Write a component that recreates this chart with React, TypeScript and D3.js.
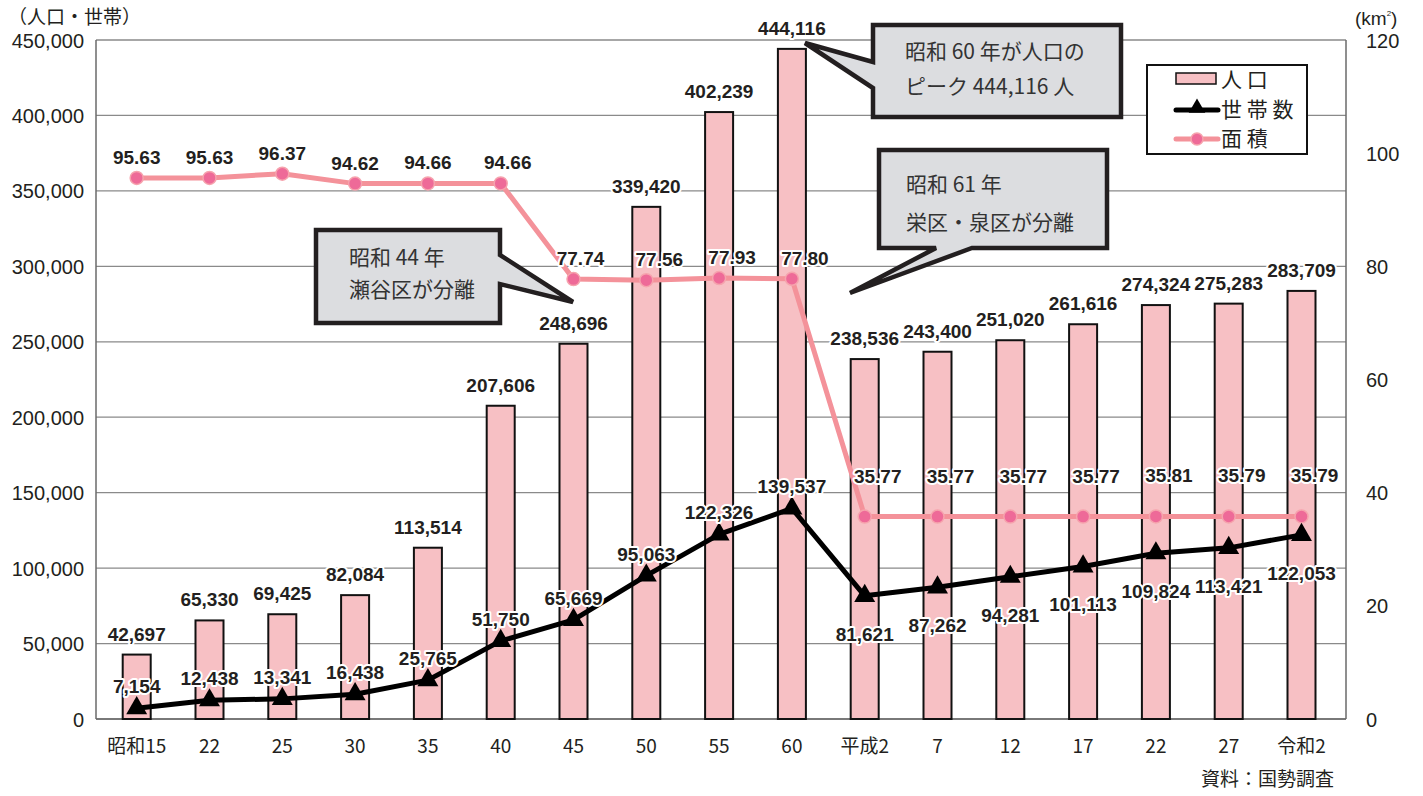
import React from "react";
import * as d3 from "d3";

const categories = ["昭和15", "22", "25", "30", "35", "40", "45", "50", "55", "60", "平成2", "7", "12", "17", "22", "27", "令和2"];
const population = [42697, 65330, 69425, 82084, 113514, 207606, 248696, 339420, 402239, 444116, 238536, 243400, 251020, 261616, 274324, 275283, 283709];
const households = [7154, 12438, 13341, 16438, 25765, 51750, 65669, 95063, 122326, 139537, 81621, 87262, 94281, 101113, 109824, 113421, 122053];
const area = [95.63, 95.63, 96.37, 94.62, 94.66, 94.66, 77.74, 77.56, 77.93, 77.8, 35.77, 35.77, 35.77, 35.77, 35.81, 35.79, 35.79];
const leftTicks = [0, 50000, 100000, 150000, 200000, 250000, 300000, 350000, 400000, 450000];
const rightTicks = [0, 20, 40, 60, 80, 100, 120];

const W = 1423;
const H = 796;
const L = 96;
const R = 1346;
const T = 40;
const B = 719;

const LABEL_FONT = "'Liberation Sans', Arial, sans-serif";
const JP_FONT = "'Noto Sans CJK JP', 'Noto Sans', sans-serif";
const INK = "#231f20";

export default function App() {
  const x = d3.scalePoint<string>().domain(categories.map((c, i) => i + "")).range([136.7, 1301.5]);
  const yL = d3.scaleLinear().domain([0, 450000]).range([B, T]);
  const yR = d3.scaleLinear().domain([0, 120]).range([B, T]);
  const fmt = d3.format(",");
  const fmtA = d3.format(".2f");
  const xi = (i: number) => x(i + "") as number;

  const hhLine = d3.line<number>().x((_, i) => xi(i)).y((d) => yL(d))(households) || "";
  const areaLine = d3.line<number>().x((_, i) => xi(i)).y((d) => yR(d))(area) || "";
  const tri = d3.symbol().type(d3.symbolTriangle).size(190)() || "";
  const triSmall = d3.symbol().type(d3.symbolTriangle).size(120)() || "";
  const barW = 28;

  const halo = {
    stroke: "#fff",
    strokeWidth: 4,
    paintOrder: "stroke" as const,
    strokeLinejoin: "round" as const,
  };

  const callout = (
    bx: number, by: number, bw: number, bh: number,
    side: "left" | "right" | "bottom",
    a: number, b: number, tx: number, ty: number
  ) => {
    const x2 = bx + bw, y2 = by + bh;
    if (side === "left")
      return `M${bx},${by}H${x2}V${y2}H${bx}V${b}L${tx},${ty}L${bx},${a}Z`;
    if (side === "right")
      return `M${bx},${by}H${x2}V${a}L${tx},${ty}L${x2},${b}V${y2}H${bx}Z`;
    return `M${bx},${by}H${x2}V${y2}H${b}L${tx},${ty}L${a},${y2}H${bx}Z`;
  };

  return (
    <svg width={W} height={H} style={{ position: "absolute", left: 0, top: 0, display: "block", background: "#fff" }}>
      {/* gridlines */}
      {leftTicks.map((t) => (
        <line key={t} x1={L} x2={R} y1={yL(t)} y2={yL(t)} stroke="#8a8a8a" strokeWidth={1.3} />
      ))}
      <line x1={L} x2={L} y1={T} y2={B} stroke="#6a6a6a" strokeWidth={1.5} />
      <line x1={R} x2={R} y1={T} y2={B} stroke="#6a6a6a" strokeWidth={1.5} />
      <line x1={L} x2={R} y1={B} y2={B} stroke="#6a6a6a" strokeWidth={1.5} />

      {/* left axis labels */}
      {leftTicks.map((t) => (
        <text key={t} x={84} y={yL(t) + 7.5} textAnchor="end" fontFamily={LABEL_FONT} fontSize={20} fill={INK}>
          {fmt(t)}
        </text>
      ))}
      {/* right axis labels */}
      {rightTicks.map((t) => (
        <text key={t} x={1366} y={yR(t) + 7.5} textAnchor="start" fontFamily={LABEL_FONT} fontSize={20} fill={INK}>
          {t}
        </text>
      ))}
      <text x={8} y={24} fontFamily={JP_FONT} fontSize={19} fill={INK}>（人口・世帯）</text>
      <text x={1355} y={25} fontFamily={LABEL_FONT} fontSize={19} fill={INK}>
        (km<tspan fontSize={8} dy={-9}>2</tspan><tspan dy={9}>)</tspan>
      </text>

      {/* x labels */}
      {categories.map((c, i) => (
        <text key={i} x={xi(i)} y={753} textAnchor="middle" fontFamily={JP_FONT} fontSize={19} fill={INK}>
          {c}
        </text>
      ))}
      <text x={1334} y={786} textAnchor="end" fontFamily={JP_FONT} fontSize={19} fill={INK}>資料：国勢調査</text>

      {/* bars */}
      {population.map((v, i) => (
        <rect key={i} x={xi(i) - barW / 2} y={yL(v)} width={barW} height={B - yL(v)} fill="#f7c0c4" stroke="#111" strokeWidth={2} />
      ))}

      {/* callouts */}
      <path d={callout(873, 25, 248, 92, "left", 62, 88, 805, 43)} fill="#dcdde0" stroke="#231f20" strokeWidth={4.5} strokeLinejoin="miter" />
      <text fontFamily={JP_FONT} fontSize={21} fill="#333" >
        <tspan x={905} y={59}>昭和 60 年が人口の</tspan>
        <tspan x={905} y={94}>ピーク 444,116 人</tspan>
      </text>
      <path d={callout(879, 150, 228, 98, "bottom", 936, 972, 850, 293)} fill="#dcdde0" stroke="#231f20" strokeWidth={4.5} strokeLinejoin="miter" />
      <text fontFamily={JP_FONT} fontSize={21} fill="#333">
        <tspan x={906} y={192}>昭和 61 年</tspan>
        <tspan x={906} y={230}>栄区・泉区が分離</tspan>
      </text>
      <path d={callout(316, 230, 184, 93, "right", 255, 284, 573, 302)} fill="#dcdde0" stroke="#231f20" strokeWidth={4.5} strokeLinejoin="miter" />
      <text fontFamily={JP_FONT} fontSize={21} fill="#333">
        <tspan x={349} y={265}>昭和 44 年</tspan>
        <tspan x={349} y={297}>瀬谷区が分離</tspan>
      </text>

      {/* area line */}
      <path d={areaLine} fill="none" stroke="#f4929a" strokeWidth={5} strokeLinejoin="round" />
      {area.map((v, i) => (
        <circle key={i} cx={xi(i)} cy={yR(v)} r={6.5} fill="#ee6a98" stroke="#f6a3ad" strokeWidth={1.5} />
      ))}

      {/* households line */}
      <path d={hhLine} fill="none" stroke="#000" strokeWidth={5} strokeLinejoin="round" />
      {households.map((v, i) => (
        <path key={i} d={tri} transform={`translate(${xi(i)},${yL(v)})`} fill="#000" />
      ))}

      {/* labels: population */}
      {population.map((v, i) => (
        <text key={i} x={xi(i)} y={yL(v) - 14} textAnchor="middle" fontFamily={LABEL_FONT} fontWeight="bold" fontSize={19} fill={INK} {...halo}>
          {fmt(v)}
        </text>
      ))}
      {/* labels: households */}
      {households.map((v, i) => (
        <text key={i} x={xi(i)} y={i < 10 ? yL(v) - 15 : yL(v) + 45} textAnchor="middle" fontFamily={LABEL_FONT} fontWeight="bold" fontSize={19} fill={INK} {...halo}>
          {fmt(v)}
        </text>
      ))}
      {/* labels: area */}
      {area.map((v, i) => (
        <text key={i} x={xi(i) + (i >= 7 ? 13 : i >= 5 ? 7 : 0)} y={i < 10 ? yR(v) - 14 : yR(v) - 34} textAnchor="middle" fontFamily={LABEL_FONT} fontWeight="bold" fontSize={19} fill={INK} {...halo}>
          {fmtA(v)}
        </text>
      ))}

      {/* legend */}
      <rect x={1147} y={65} width={160} height={89} fill="#fff" stroke="#111" strokeWidth={2} />
      <rect x={1176} y={73} width={40} height={11} fill="#f7c0c4" stroke="#111" strokeWidth={1.5} />
      <text x={1221} y={87} fontFamily={JP_FONT} fontSize={21} fill={INK}>人 口</text>
      <line x1={1176} x2={1218} y1={110} y2={110} stroke="#000" strokeWidth={5} strokeLinecap="round" />
      <path d={triSmall} transform="translate(1197,108)" fill="#000" />
      <text x={1221} y={117} fontFamily={JP_FONT} fontSize={21} fill={INK}>世 帯 数</text>
      <line x1={1176} x2={1218} y1={139} y2={139} stroke="#f4929a" strokeWidth={5} strokeLinecap="round" />
      <circle cx={1197} cy={139} r={6} fill="#ee6a98" stroke="#f6a3ad" strokeWidth={1.5} />
      <text x={1221} y={146} fontFamily={JP_FONT} fontSize={21} fill={INK}>面 積</text>
    </svg>
  );
}
